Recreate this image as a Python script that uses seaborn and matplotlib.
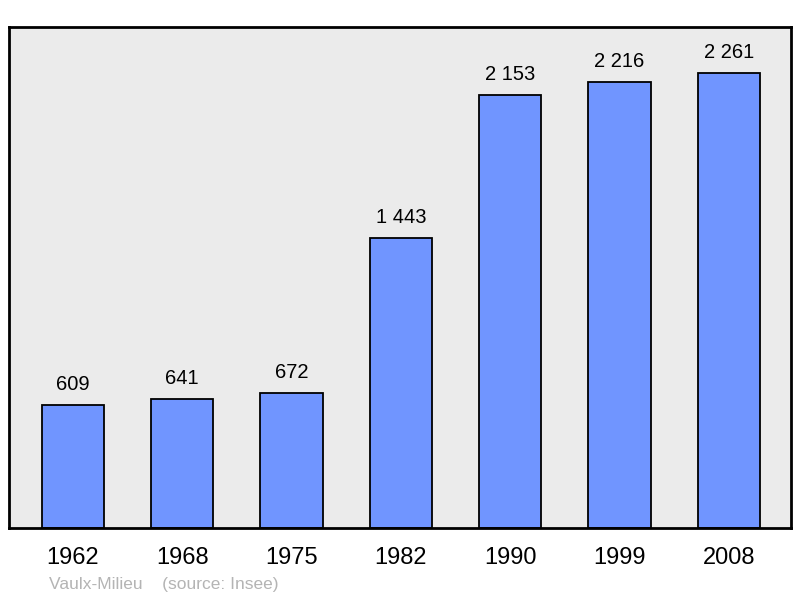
import numpy as np
import pandas as pd
import matplotlib
matplotlib.use("Agg")
import matplotlib.pyplot as plt
import seaborn as sns

# population data
years = ["1962", "1968", "1975", "1982", "1990", "1999", "2008"]
population = [609, 641, 672, 1443, 2153, 2216, 2261]
value_labels = ["609", "641", "672", "1 443", "2 153", "2 216", "2 261"]

df = pd.DataFrame({"year": years, "pop": population})

sns.set_style("white")
plt.rcParams['font.family'] = ['Liberation Sans', 'DejaVu Sans']

fig = plt.figure(figsize=(8, 5.98), dpi=100)
ax = fig.add_axes([9/800, 1 - 528/598, 782/800, 501/598])
ax.set_facecolor("#ebebeb")

sns.barplot(data=df, x="year", y="pop", color="#7095ff", saturation=1,
            width=0.57, edgecolor="black", linewidth=1.3, ax=ax)

for i, (v, lab) in enumerate(zip(population, value_labels)):
    ax.text(i, v + 55, lab, ha="center", va="bottom", fontsize=14.5, color="black")

ax.set_xlim(-0.585, 6.57)
ax.set_ylim(0, 2490)
ax.set_yticks([])
ax.set_xlabel("")
ax.set_ylabel("")
ax.tick_params(axis="x", length=0, pad=14, labelsize=17, labelcolor="black")
for s in ax.spines.values():
    s.set_linewidth(2)
    s.set_color("black")

fig.text(49/800, 1 - 584/598, "Vaulx-Milieu    (source: Insee)", color="#b4b4b4",
         fontsize=12.5, va="center", ha="left")

fig.savefig("out.png", dpi=100, facecolor="white")
